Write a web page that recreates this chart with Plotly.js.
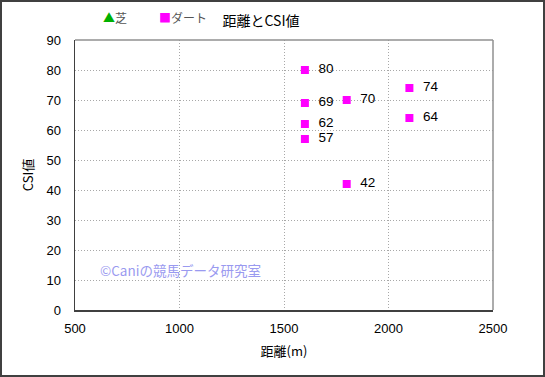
<!DOCTYPE html>
<html><head><meta charset="utf-8">
<script src="https://cdn.plot.ly/plotly-3.0.1.min.js"></script>
<style>
html,body{margin:0;padding:0;background:#fff;}
#wrap{position:relative;width:545px;height:377px;}
#chart{width:545px;height:377px;}
#frame{position:absolute;left:0;top:0;width:545px;height:377px;box-sizing:border-box;border:2px solid #404040;pointer-events:none;}
</style></head>
<body>
<div id="wrap"><div id="chart"></div><div id="frame"></div></div>
<script>
// Data
const turfDistance = [];
const turfCSI = [];
const dirtDistance = [1600, 1600, 1600, 1600, 1800, 1800, 2100, 2100];
const dirtCSI = [80, 69, 62, 57, 70, 42, 74, 64];
const seriesNames = ["芝", "ダート"];
const xTicks = [500, 1000, 1500, 2000, 2500];
const yTicks = [0, 10, 20, 30, 40, 50, 60, 70, 80, 90];

const jp = '"Noto Sans CJK JP", "Liberation Sans", Arial, sans-serif';
const lat = '"Liberation Sans", Arial, sans-serif';

const traces = [
  {x: turfDistance, y: turfCSI, name: seriesNames[0], type: 'scatter', mode: 'markers+text',
   marker: {symbol: 'triangle-up', color: '#00b000', size: 9},
   text: turfCSI.map(String), textposition: 'middle right', cliponaxis: false, showlegend: false},
  {x: dirtDistance, y: dirtCSI, name: seriesNames[1], type: 'scatter', mode: 'markers+text',
   marker: {symbol: 'square', color: '#ff00ff', size: 8},
   text: dirtCSI.map(v => '  ' + v), textposition: 'middle right',
   textfont: {family: lat, size: 13.5, color: '#000'}, cliponaxis: false, showlegend: false}
];

const layout = {
  width: 545, height: 377,
  margin: {l: 75, r: 52, t: 40, b: 67},
  paper_bgcolor: '#fff', plot_bgcolor: '#fff',
  showlegend: false,
  title: {text: '距離とCSI値', font: {family: jp, size: 14, color: '#000'}, x: 0.445, xref: 'paper', xanchor: 'center', y: 0.945, yanchor: 'middle'},
  xaxis: {range: [500, 2500], tickvals: xTicks, ticktext: xTicks.map(String),
    showgrid: true, gridcolor: '#a8a8a8', griddash: '1px,2px', gridwidth: 1,
    showline: true, linecolor: '#404040', linewidth: 1.5, zeroline: false,
    ticks: '', ticklabelstandoff: 6,
    tickfont: {family: lat, size: 13, color: '#000'},
    title: {text: '距離(m)', font: {family: jp, size: 13, color: '#000'}, standoff: 12}},
  yaxis: {range: [0, 90], tickvals: yTicks, ticktext: yTicks.map(String),
    showgrid: true, gridcolor: '#a8a8a8', griddash: '1px,2px', gridwidth: 1,
    showline: true, linecolor: '#404040', linewidth: 1.5, zeroline: false,
    ticks: '', ticklabelstandoff: 10,
    tickfont: {family: lat, size: 13, color: '#000'},
    title: {text: 'CSI値', font: {family: jp, size: 13, color: '#000'}, standoff: 10}},
  shapes: [
    {type: 'line', xref: 'paper', yref: 'paper', x0: 0, x1: 1, y0: 1, y1: 1, line: {color: '#909090', width: 1.5}},
    {type: 'line', xref: 'paper', yref: 'paper', x0: 1, x1: 1, y0: 0, y1: 1, line: {color: '#909090', width: 1.5}}
  ],
  annotations: [
    {xref: 'paper', yref: 'paper', x: 0.062, y: 1.083, xanchor: 'left', yanchor: 'middle', showarrow: false,
     text: '<span style="color:#00b000">▲</span>' + seriesNames[0], font: {family: jp, size: 12, color: '#555'}},
    {xref: 'paper', yref: 'paper', x: 0.195, y: 1.083, xanchor: 'left', yanchor: 'middle', showarrow: false,
     text: '<span style="color:#ff00ff">■</span>' + seriesNames[1], font: {family: jp, size: 12, color: '#555'}},
    {xref: 'paper', yref: 'paper', x: 0.055, y: 0.15, xanchor: 'left', yanchor: 'middle', showarrow: false,
     text: '©Caniの競馬データ研究室', font: {family: jp, size: 13.5, color: '#9a9af0'}}
  ]
};

Plotly.newPlot('chart', traces, layout, {staticPlot: true, displayModeBar: false});
</script>
</body></html>
